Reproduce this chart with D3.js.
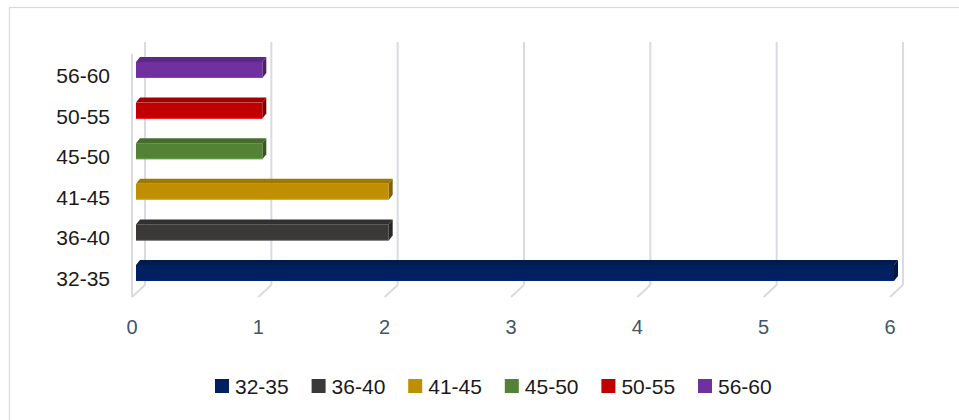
<!DOCTYPE html>
<html>
<head>
<meta charset="utf-8">
<script src="https://cdn.jsdelivr.net/npm/d3@7"></script>
<style>
  body { margin: 0; background: #fff; }
  text { font-family: "Liberation Sans", Arial, sans-serif; }
</style>
</head>
<body>
<div id="chart"></div>
<script>
// data
var categories = ["32-35", "36-40", "41-45", "45-50", "50-55", "56-60"];
var values = [6, 2, 2, 1, 1, 1];
var colors = ["#002060", "#3b3838", "#bf8f00", "#538135", "#c00000", "#7030a0"];
var xTicks = [0, 1, 2, 3, 4, 5, 6];

var svgWidth = 959;
var svgHeight = 420;

// depth offsets for the fake 3d look
var floorDepth = { dx: 13, dy: -12 };   // front floor -> back wall
var barFront = { dx: 4, dy: -4 };       // front floor -> bar front face
var barDepth = { dx: 4, dy: -5 };       // bar thickness

var svg = d3.select("#chart")
    .append("svg")
    .attr("width", svgWidth)
    .attr("height", svgHeight);

// chart border
svg.append("rect")
    .attr("x", 9.5)
    .attr("y", 7.5)
    .attr("width", 1000)
    .attr("height", 500)
    .attr("fill", "none")
    .attr("stroke", "#d9d9d9")
    .attr("stroke-width", 1.2);

// scale on the front floor plane
var x = d3.scaleLinear()
    .domain([0, 6])
    .range([132, 890]);

// band scale for categories, on the bar front plane, top = last category
var y = d3.scaleBand()
    .domain(categories.slice().reverse())
    .range([49.7, 293.3])
    .paddingInner(0)
    .paddingOuter(0);

var floorY = 297;
var wallTop = 54;
var grid = svg.append("g")
    .attr("stroke", "#d9dae4")
    .attr("stroke-width", 2)
    .attr("fill", "none");

// left wall front edge
grid.append("line")
    .attr("x1", x(0)).attr("y1", wallTop)
    .attr("x2", x(0)).attr("y2", floorY);

// back wall gridlines + floor ticks
xTicks.forEach(function(t) {
    grid.append("line")
        .attr("x1", x(t) + floorDepth.dx).attr("y1", wallTop + floorDepth.dy)
        .attr("x2", x(t) + floorDepth.dx).attr("y2", floorY + floorDepth.dy);
    grid.append("line")
        .attr("x1", x(t)).attr("y1", floorY)
        .attr("x2", x(t) + floorDepth.dx).attr("y2", floorY + floorDepth.dy);
});

// bars
var rows = categories.map(function(c, i) {
    return { cat: c, value: values[i], color: colors[i] };
});

var barH = 16;
var bars = svg.selectAll("g.bar")
    .data(rows)
    .enter()
    .append("g")
    .attr("class", "bar");

function pts(arr) { return arr.map(function(p) { return p.join(","); }).join(" "); }

bars.each(function(d) {
    var g = d3.select(this);
    var x0 = x(0) + barFront.dx;
    var x1 = x(d.value) + barFront.dx;
    var yc = y(d.cat) + y.bandwidth() / 2;
    var yt = yc - barH / 2;
    var yb = yc + barH / 2;
    var c = d3.color(d.color);

    // top face
    g.append("polygon")
        .attr("points", pts([[x0, yt], [x0 + barDepth.dx, yt + barDepth.dy],
            [x1 + barDepth.dx, yt + barDepth.dy], [x1, yt]]))
        .attr("fill", c.darker(0.5));
    // side face
    g.append("polygon")
        .attr("points", pts([[x1, yt], [x1 + barDepth.dx, yt + barDepth.dy],
            [x1 + barDepth.dx, yb + barDepth.dy], [x1, yb]]))
        .attr("fill", c.darker(1.1));
    // front face
    g.append("rect")
        .attr("x", x0)
        .attr("y", yt)
        .attr("width", x1 - x0)
        .attr("height", barH)
        .attr("fill", d.color);
    // light lower edge
    g.append("line")
        .attr("x1", x0).attr("y1", yb - 0.5)
        .attr("x2", x1).attr("y2", yb - 0.5)
        .attr("stroke", c.brighter(0.6))
        .attr("stroke-width", 1);
});

// category labels
svg.append("g")
    .selectAll("text")
    .data(categories)
    .enter()
    .append("text")
    .attr("x", 110)
    .attr("y", function(d) { return y(d) + y.bandwidth() / 2 + 13; })
    .attr("text-anchor", "end")
    .attr("font-size", "21px")
    .attr("fill", "#1a1a1a")
    .text(function(d) { return d; });

// value tick labels
svg.append("g")
    .selectAll("text")
    .data(xTicks)
    .enter()
    .append("text")
    .attr("x", function(d) { return x(d); })
    .attr("y", 334)
    .attr("text-anchor", "middle")
    .attr("font-size", "20px")
    .attr("fill", "#44546a")
    .text(function(d) { return d; });

// legend
var legend = svg.append("g")
    .selectAll("g")
    .data(rows)
    .enter()
    .append("g")
    .attr("transform", function(d, i) { return "translate(" + (215 + i * 96.6) + ",379)"; });

legend.append("rect")
    .attr("width", 14)
    .attr("height", 14)
    .attr("fill", function(d) { return d.color; });

legend.append("text")
    .attr("x", 20)
    .attr("y", 14.5)
    .attr("font-size", "21px")
    .attr("fill", "#1a1a1a")
    .text(function(d) { return d.cat; });
</script>
</body>
</html>
